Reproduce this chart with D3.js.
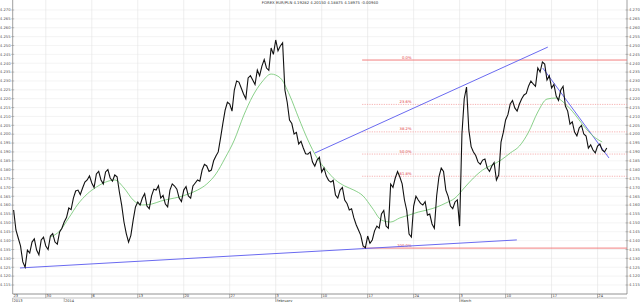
<!DOCTYPE html>
<html>
<head>
<meta charset="utf-8">
<script src="https://cdn.jsdelivr.net/npm/d3@7"></script>
<style>
  body { margin: 0; background: #fff; }
  text { font-family: "DejaVu Sans", sans-serif; }
</style>
</head>
<body>
<script>
const title = "FOREX EUR/PLN 4.19282 4.20150 4.18875 4.18975 -0.00940"

// price, quarter-day steps, trading days counted from Mon 30 Dec 2013
const priceStart = -3.5
const priceStep = 0.25
const price = [
  4.1573, 4.1460, 4.1415, 4.1370, 4.1280, 4.1250, 4.1347, 4.1330, 4.1392, 4.1410,
  4.1347, 4.1320, 4.1404, 4.1420, 4.1370, 4.1350, 4.1426, 4.1440, 4.1392, 4.1380,
  4.1449, 4.1470, 4.1505, 4.1530, 4.1584, 4.1575, 4.1640, 4.1680, 4.1685, 4.1660,
  4.1697, 4.1730, 4.1742, 4.1765, 4.1725, 4.1700, 4.1776, 4.1790, 4.1742, 4.1720,
  4.1787, 4.1800, 4.1753, 4.1735, 4.1770, 4.1760, 4.1674, 4.1600, 4.1505, 4.1440,
  4.1392, 4.1430, 4.1516, 4.1590, 4.1618, 4.1600, 4.1640, 4.1665, 4.1595, 4.1580,
  4.1652, 4.1690, 4.1685, 4.1710, 4.1640, 4.1655, 4.1606, 4.1590, 4.1685, 4.1720,
  4.1708, 4.1690, 4.1640, 4.1620, 4.1685, 4.1705, 4.1652, 4.1640, 4.1708, 4.1725,
  4.1742, 4.1735, 4.1798, 4.1830, 4.1821, 4.1790, 4.1798, 4.1850, 4.1877, 4.1900,
  4.1978, 4.2060, 4.2136, 4.2180, 4.2170, 4.2130, 4.2249, 4.2300, 4.2294, 4.2260,
  4.2227, 4.2200, 4.2317, 4.2330, 4.2305, 4.2280, 4.2362, 4.2330, 4.2384, 4.2420,
  4.2373, 4.2360, 4.2486, 4.2450, 4.2531, 4.2470, 4.2497, 4.2515, 4.2249, 4.2180,
  4.2080, 4.2060, 4.2001, 4.2010, 4.1945, 4.1960, 4.1922, 4.1890, 4.1888, 4.1900,
  4.1843, 4.1820, 4.1854, 4.1870, 4.1787, 4.1810, 4.1764, 4.1740, 4.1730, 4.1740,
  4.1657, 4.1640, 4.1685, 4.1700, 4.1629, 4.1610, 4.1573, 4.1580, 4.1528, 4.1490,
  4.1460, 4.1430, 4.1370, 4.1360, 4.1426, 4.1385, 4.1404, 4.1455, 4.1482, 4.1470,
  4.1550, 4.1570, 4.1482, 4.1470, 4.1719, 4.1700, 4.1753, 4.1790, 4.1759, 4.1720,
  4.1629, 4.1570, 4.1437, 4.1420, 4.1595, 4.1650, 4.1629, 4.1610, 4.1601, 4.1620,
  4.1544, 4.1550, 4.1494, 4.1470, 4.1652, 4.1760, 4.1809, 4.1790, 4.1685, 4.1650,
  4.1595, 4.1580, 4.1618, 4.1630, 4.1482, 4.2000, 4.2200, 4.2266, 4.2024, 4.1930,
  4.1900, 4.1880, 4.1843, 4.1830, 4.1854, 4.1860, 4.1809, 4.1790, 4.1821, 4.1840,
  4.1742, 4.1770, 4.1956, 4.2010, 4.2080, 4.2110, 4.2170, 4.2190, 4.2148, 4.2130,
  4.2170, 4.2200, 4.2221, 4.2230, 4.2272, 4.2300, 4.2283, 4.2270, 4.2373, 4.2350,
  4.2407, 4.2395, 4.2305, 4.2330, 4.2260, 4.2280, 4.2215, 4.2190, 4.2249, 4.2270,
  4.2159, 4.2130, 4.2057, 4.2070, 4.2012, 4.1990, 4.2035, 4.2050, 4.2001, 4.1990,
  4.1922, 4.1940, 4.1911, 4.1895, 4.1933, 4.1945, 4.1911, 4.1900, 4.1922
]

// moving average, one value per trading day
const maStart = 0.5
const maStep = 1
const ma = [
  4.1420, 4.1454, 4.1528, 4.1606, 4.1663, 4.1702, 4.1730, 4.1742, 4.1697, 4.1629,
  4.1601, 4.1606, 4.1623, 4.1635, 4.1646, 4.1663, 4.1685, 4.1719, 4.1776, 4.1866,
  4.1967, 4.2103, 4.2215, 4.2294, 4.2339, 4.2317, 4.2221, 4.2091, 4.1967, 4.1866,
  4.1798, 4.1742, 4.1708, 4.1685, 4.1652, 4.1584, 4.1516, 4.1505, 4.1528, 4.1544,
  4.1561, 4.1573, 4.1589, 4.1612, 4.1640, 4.1697, 4.1753, 4.1798, 4.1826, 4.1854,
  4.1894, 4.1933, 4.2012, 4.2125, 4.2198, 4.2204, 4.2170, 4.2114, 4.2046, 4.1990,
  4.1956
]

const weekDays = [0, 5, 10, 15, 20, 25, 30, 35, 40, 45, 50, 55, 60]
const weekLabels = ["30", "6", "13", "20", "27", "3", "10", "17", "24", "3", "10", "17", "24"]
const firstDayLabel = "23"
const monthDays = [-3.6, 2, 25, 45]
const monthLabels = ["2013", "2014", "February", "March"]

const yTicks = d3.range(31, -1, -1).map(i => 4.270 - i * 0.005)

const fibHigh = 4.2418
const fibLow = 4.1358
const fibStartDay = 34.4
const fibLevels = [0, 23.6, 38.2, 50, 61.8, 100]
const fibLabels = ["0.0%", "23.6%", "38.2%", "50.0%", "61.8%", "100.0%"]

const trendLines = [
  [[-2.81, 4.1246], [51.22, 4.1404]],
  [[29.26, 4.1894], [54.59, 4.2491]],
  [[54.04, 4.2373], [61.24, 4.1866]]
]

const width = 640, height = 302
const plotLeft = 12.7, plotRight = 627, plotTop = 0, plotBottom = 294

let x = d3.scaleLinear().domain([-3.6, 63.2]).range([plotLeft, plotRight])
let y = d3.scaleLinear().domain([4.115, 4.270]).range([285, 10])

let svg = d3.select("body").append("svg")
  .attr("width", width)
  .attr("height", height)

svg.append("defs").append("clipPath")
  .attr("id", "plot")
  .append("rect")
  .attr("x", plotLeft).attr("y", plotTop)
  .attr("width", plotRight - plotLeft).attr("height", plotBottom - plotTop)

// grid
svg.append("g")
  .selectAll("line")
  .data(yTicks)
  .enter()
  .append("line")
  .attr("x1", plotLeft).attr("x2", plotRight)
  .attr("y1", d => y(d)).attr("y2", d => y(d))
  .style("stroke", "#ececec")
  .style("stroke-width", 0.6)

svg.append("g")
  .selectAll("line")
  .data(weekDays)
  .enter()
  .append("line")
  .attr("x1", d => x(d)).attr("x2", d => x(d))
  .attr("y1", plotTop).attr("y2", plotBottom)
  .style("stroke", "#e2e2e2")
  .style("stroke-width", 0.6)

// y axes, left and right
function yAxis(xPos, anchor, dx) {
  let g = svg.append("g")
  g.append("line")
    .attr("x1", xPos).attr("x2", xPos)
    .attr("y1", plotTop).attr("y2", plotBottom)
    .style("stroke", "#888")
    .style("stroke-width", 0.8)
  g.selectAll("line.tick")
    .data(yTicks)
    .enter()
    .append("line")
    .attr("class", "tick")
    .attr("x1", xPos - 1.5).attr("x2", xPos + 1.5)
    .attr("y1", d => y(d)).attr("y2", d => y(d))
    .style("stroke", "#888")
    .style("stroke-width", 0.5)
  g.selectAll("text")
    .data(yTicks)
    .enter()
    .append("text")
    .attr("x", xPos + dx)
    .attr("y", d => y(d) + 1.3)
    .attr("text-anchor", anchor)
    .attr("font-size", "3.8px")
    .attr("fill", "#555")
    .text(d3.format(".3f"))
}
yAxis(plotLeft, "end", -2)
yAxis(plotRight, "start", 2)

// x axis strip
let xg = svg.append("g")
xg.append("line")
  .attr("x1", plotLeft).attr("x2", plotRight)
  .attr("y1", plotBottom).attr("y2", plotBottom)
  .style("stroke", "#777").style("stroke-width", 0.8)
xg.append("line")
  .attr("x1", plotLeft).attr("x2", plotRight)
  .attr("y1", plotBottom + 4).attr("y2", plotBottom + 4)
  .style("stroke", "#999").style("stroke-width", 0.6)

xg.selectAll("line.wk")
  .data(weekDays)
  .enter()
  .append("line")
  .attr("class", "wk")
  .attr("x1", d => x(d)).attr("x2", d => x(d))
  .attr("y1", plotBottom).attr("y2", plotBottom + 4)
  .style("stroke", "#777").style("stroke-width", 0.6)

xg.selectAll("text.wk")
  .data(weekDays)
  .enter()
  .append("text")
  .attr("class", "wk")
  .attr("x", d => x(d) + 0.8)
  .attr("y", plotBottom + 3.3)
  .attr("font-size", "3.6px")
  .attr("fill", "#333")
  .text((d, i) => weekLabels[i])

xg.append("text")
  .attr("x", plotLeft + 0.8)
  .attr("y", plotBottom + 3.3)
  .attr("font-size", "3.6px")
  .attr("fill", "#333")
  .text(firstDayLabel)

xg.selectAll("line.mo")
  .data(monthDays)
  .enter()
  .append("line")
  .attr("class", "mo")
  .attr("x1", d => x(d)).attr("x2", d => x(d))
  .attr("y1", plotBottom + 4).attr("y2", height)
  .style("stroke", "#888").style("stroke-width", 0.6)

xg.selectAll("text.mo")
  .data(monthDays)
  .enter()
  .append("text")
  .attr("class", "mo")
  .attr("x", d => x(d) + 0.8)
  .attr("y", plotBottom + 7.6)
  .attr("font-size", "3.6px")
  .attr("fill", "#333")
  .text((d, i) => monthLabels[i])

// title
svg.append("text")
  .attr("x", 320)
  .attr("y", 4)
  .attr("text-anchor", "middle")
  .attr("font-size", "3.8px")
  .attr("fill", "#333")
  .text(title)

let plot = svg.append("g").attr("clip-path", "url(#plot)")

// fibonacci retracement
let fib = plot.append("g")
fib.selectAll("line")
  .data(fibLevels)
  .enter()
  .append("line")
  .attr("x1", x(fibStartDay)).attr("x2", plotRight)
  .attr("y1", d => y(fibHigh - (fibHigh - fibLow) * d / 100))
  .attr("y2", d => y(fibHigh - (fibHigh - fibLow) * d / 100))
  .style("stroke", d => (d == 0 || d == 100) ? "#f07070" : "#f4a0a0")
  .style("stroke-width", d => (d == 0 || d == 100) ? 0.9 : 0.8)
  .style("stroke-dasharray", d => (d == 0 || d == 100) ? null : "1.2,1.2")

fib.selectAll("text")
  .data(fibLevels)
  .enter()
  .append("text")
  .attr("x", x(40) - 2)
  .attr("y", d => y(fibHigh - (fibHigh - fibLow) * d / 100) - 1.5)
  .attr("text-anchor", "end")
  .attr("font-size", "3.8px")
  .attr("fill", "#e04040")
  .text((d, i) => fibLabels[i])

// trend lines
plot.selectAll("line.trend")
  .data(trendLines)
  .enter()
  .append("line")
  .attr("class", "trend")
  .attr("x1", d => x(d[0][0])).attr("y1", d => y(d[0][1]))
  .attr("x2", d => x(d[1][0])).attr("y2", d => y(d[1][1]))
  .style("stroke", "#6a6af0")
  .style("stroke-width", 1)

// moving average
let maLine = d3.line()
  .x((d, i) => x(maStart + i * maStep))
  .y(d => y(d))
  .curve(d3.curveMonotoneX)

plot.append("path")
  .attr("d", maLine(ma))
  .style("fill", "none")
  .style("stroke", "#6cc46c")
  .style("stroke-width", 0.8)

// price
let priceLine = d3.line()
  .x((d, i) => x(priceStart + i * priceStep))
  .y(d => y(d))

plot.append("path")
  .attr("d", priceLine(price))
  .style("fill", "none")
  .style("stroke", "#111")
  .style("stroke-width", 1.1)
</script>
</body>
</html>
